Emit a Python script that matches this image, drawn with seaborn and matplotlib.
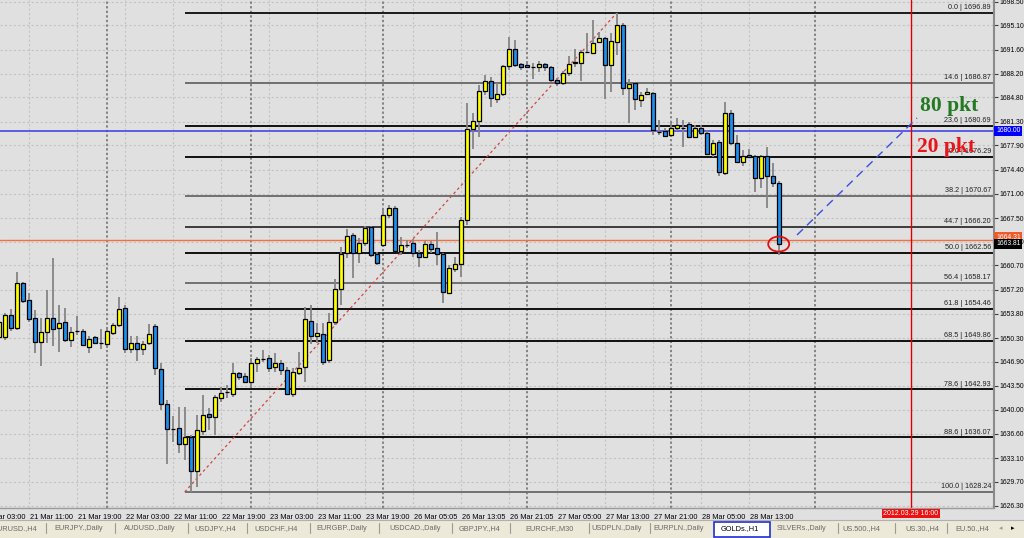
import numpy as np
import pandas as pd
import matplotlib
matplotlib.use("Agg")
import matplotlib.pyplot as plt
import matplotlib.transforms as mtransforms
from matplotlib.patches import Ellipse, Rectangle
from matplotlib.lines import Line2D
import seaborn as sns

# ---------------- data (GOLDs., H1) ----------------
bar_index = list(range(-1, 130))
opens = [
    1650.46, 1650.46, 1653.61, 1651.75, 1658.20, 1655.76, 1653.18, 1649.74, 1651.17, 1653.18,
    1651.75, 1652.61, 1650.03, 1651.32, 1651.32, 1649.02, 1650.46, 1649.60, 1649.45, 1651.03,
    1652.18, 1654.61, 1648.74, 1649.60, 1648.74, 1649.60, 1652.03, 1645.87, 1640.86, 1637.27,
    1637.42, 1635.12, 1636.13, 1631.26, 1636.99, 1639.42, 1638.99, 1641.72, 1642.58, 1642.29,
    1645.30, 1644.87, 1644.01, 1646.73, 1647.30, 1647.45, 1646.16, 1646.73, 1645.73, 1642.29,
    1645.30, 1646.16, 1652.75, 1650.60, 1650.89, 1647.16, 1652.61, 1657.34, 1662.50, 1665.07,
    1662.50, 1663.93, 1666.22, 1662.35, 1663.64, 1667.94, 1668.94, 1662.78, 1663.64, 1663.93,
    1662.50, 1661.92, 1663.78, 1663.21, 1662.35, 1656.76, 1660.20, 1660.92, 1667.22, 1680.26,
    1681.41, 1685.71, 1687.14, 1684.56, 1685.28, 1689.29, 1691.73, 1689.58, 1689.44, 1689.15,
    1689.15, 1689.58, 1689.15, 1687.29, 1686.86, 1688.29, 1689.72, 1689.72, 1691.30, 1691.16,
    1692.73, 1693.30, 1689.44, 1692.73, 1695.17, 1686.14, 1686.86, 1684.42, 1685.28, 1685.42,
    1679.83, 1679.98, 1679.40, 1680.41, 1680.41, 1680.98, 1679.12, 1680.41, 1679.69, 1676.68,
    1678.40, 1673.96, 1682.56, 1678.26, 1675.54, 1676.54, 1676.40, 1673.24, 1676.40, 1673.53, 1672.53,
]
highs = [
    1653.18, 1653.90, 1654.47, 1659.77, 1658.34, 1656.76, 1654.33, 1653.18, 1657.19, 1661.78,
    1655.04, 1654.61, 1651.89, 1653.47, 1651.60, 1650.60, 1650.60, 1651.60, 1651.75, 1652.46,
    1656.19, 1655.04, 1650.60, 1650.60, 1649.88, 1652.32, 1652.32, 1646.73, 1641.43, 1639.14,
    1640.43, 1640.43, 1636.41, 1639.28, 1642.15, 1640.28, 1642.15, 1643.29, 1643.58, 1646.73,
    1645.44, 1645.30, 1647.45, 1647.59, 1648.59, 1647.88, 1648.17, 1647.16, 1646.16, 1646.02,
    1648.31, 1654.76, 1655.04, 1652.46, 1652.46, 1653.90, 1658.77, 1663.35, 1665.93, 1665.36,
    1664.64, 1666.36, 1666.36, 1662.64, 1668.94, 1669.37, 1669.23, 1664.79, 1664.36, 1664.50,
    1662.92, 1664.21, 1664.21, 1665.50, 1662.50, 1660.78, 1661.92, 1667.65, 1683.99, 1682.56,
    1686.57, 1688.00, 1687.72, 1686.86, 1689.44, 1693.45, 1693.02, 1689.72, 1689.72, 1689.72,
    1690.01, 1689.72, 1689.29, 1687.57, 1688.58, 1690.73, 1691.73, 1691.58, 1694.02, 1695.88,
    1694.16, 1693.45, 1694.02, 1696.89, 1695.45, 1687.43, 1687.00, 1685.57, 1686.14, 1685.57,
    1681.55, 1680.41, 1681.27, 1681.84, 1681.55, 1681.27, 1680.84, 1680.84, 1680.12, 1678.69,
    1678.69, 1684.13, 1682.99, 1679.40, 1677.25, 1677.40, 1676.54, 1676.54, 1677.68, 1675.39, 1672.81,
]
lows = [
    1650.03, 1650.03, 1651.32, 1651.46, 1655.33, 1652.61, 1648.17, 1646.30, 1649.60, 1649.17,
    1648.31, 1649.74, 1649.02, 1650.74, 1649.17, 1648.17, 1649.45, 1648.74, 1648.88, 1650.74,
    1651.89, 1648.17, 1648.17, 1647.02, 1647.88, 1649.31, 1645.01, 1640.00, 1632.26, 1635.41,
    1633.84, 1632.83, 1628.24, 1628.96, 1636.41, 1637.13, 1636.41, 1641.14, 1641.72, 1641.86,
    1644.30, 1643.87, 1643.29, 1645.44, 1646.88, 1645.44, 1645.44, 1645.01, 1642.15, 1641.86,
    1645.01, 1644.01, 1649.45, 1649.60, 1646.45, 1646.73, 1652.18, 1655.04, 1661.78, 1658.91,
    1661.06, 1663.50, 1661.92, 1660.78, 1663.35, 1667.51, 1662.64, 1662.21, 1663.21, 1661.92,
    1660.49, 1661.78, 1662.50, 1660.78, 1655.33, 1656.62, 1659.77, 1659.06, 1666.51, 1677.40,
    1679.12, 1685.14, 1683.42, 1683.99, 1684.99, 1688.72, 1689.15, 1688.72, 1689.15, 1687.43,
    1688.43, 1688.58, 1687.00, 1686.43, 1686.57, 1687.86, 1689.15, 1687.14, 1691.16, 1691.16,
    1692.59, 1684.56, 1685.57, 1690.87, 1685.14, 1681.12, 1682.99, 1683.42, 1685.14, 1679.40,
    1679.40, 1679.12, 1679.12, 1679.98, 1677.68, 1678.97, 1678.97, 1679.40, 1676.54, 1676.25,
    1673.53, 1673.67, 1677.97, 1675.39, 1674.96, 1676.11, 1671.24, 1671.81, 1668.94, 1671.95, 1662.21,
]
closes = [
    1652.61, 1653.61, 1651.75, 1658.20, 1655.62, 1653.04, 1649.74, 1651.17, 1653.18, 1651.60,
    1652.46, 1650.03, 1651.17, 1651.32, 1649.31, 1650.17, 1649.60, 1649.60, 1651.32, 1652.18,
    1654.47, 1648.74, 1649.60, 1648.74, 1649.45, 1650.89, 1646.02, 1640.86, 1637.27, 1637.27,
    1635.12, 1636.13, 1631.26, 1637.13, 1639.28, 1638.99, 1641.86, 1642.43, 1642.58, 1645.30,
    1644.73, 1644.01, 1646.73, 1647.30, 1647.30, 1646.02, 1646.73, 1645.73, 1642.29, 1645.44,
    1646.02, 1653.04, 1650.60, 1651.03, 1646.88, 1652.61, 1657.34, 1662.35, 1664.93, 1662.50,
    1663.93, 1666.08, 1662.21, 1661.06, 1667.94, 1668.94, 1662.78, 1663.64, 1663.64, 1662.50,
    1661.92, 1663.78, 1663.07, 1662.35, 1656.91, 1660.35, 1660.92, 1667.22, 1680.26, 1681.41,
    1685.71, 1687.14, 1684.71, 1685.28, 1689.29, 1691.73, 1689.44, 1689.15, 1689.15, 1689.15,
    1689.58, 1689.15, 1687.29, 1686.86, 1688.29, 1689.58, 1689.87, 1691.30, 1691.30, 1692.59,
    1693.30, 1689.44, 1692.87, 1695.17, 1686.14, 1686.71, 1684.56, 1685.14, 1685.57, 1680.12,
    1679.83, 1679.26, 1680.41, 1680.84, 1680.41, 1679.12, 1680.41, 1679.69, 1676.68, 1678.26,
    1674.10, 1682.56, 1678.26, 1675.54, 1676.40, 1676.25, 1673.24, 1676.40, 1673.53, 1672.53, 1663.81,
]

scale_ticks = [1698.50, 1695.10, 1691.60, 1688.20, 1684.80, 1681.30, 1677.90, 1674.40,
               1671.00, 1667.50, 1664.10, 1660.70, 1657.20, 1653.80, 1650.30, 1646.90,
               1643.50, 1640.00, 1636.60, 1633.10, 1629.70, 1626.30]
time_tick_bars = [-4, 4, 12, 20, 28, 36, 44, 52, 60, 68, 76, 84, 92, 100, 108, 116, 124]
time_tick_labels = ["21 Mar 03:00", "21 Mar 11:00", "21 Mar 19:00", "22 Mar 03:00",
                    "22 Mar 11:00", "22 Mar 19:00", "23 Mar 03:00", "23 Mar 11:00",
                    "23 Mar 19:00", "26 Mar 05:05", "26 Mar 13:05", "26 Mar 21:05",
                    "27 Mar 05:00", "27 Mar 13:00", "27 Mar 21:00", "28 Mar 05:00",
                    "28 Mar 13:00"]
day_start_bars = [17, 41, 63, 87, 111, 135]

fib_levels = ["0.0", "14.6", "23.6", "30.0", "38.2", "44.7", "50.0", "56.4",
              "61.8", "68.5", "78.6", "88.6", "100.0"]
fib_prices = [1696.89, 1686.87, 1680.69, 1676.29, 1670.67, 1666.20, 1662.56,
              1658.17, 1654.46, 1649.86, 1642.93, 1636.07, 1628.24]
fib_anchor_bars = [30, 102]
fib_anchor_prices = [1628.24, 1696.89]

level_price = 1680.00
ask_price = 1664.31
bid_price = 1663.81
cursor_bar = 151
cursor_label = "2012.03.29 16:00"
projection_bars = [132.05, 152.05]
projection_prices = [1665.07, 1681.84]
note_texts = ["80 pkt", "20 pkt"]
circle_bar = 129
circle_price = 1663.77

tab_labels = ["EURUSD.,H4", "EURJPY.,Daily", "AUDUSD.,Daily", "USDJPY.,H4", "USDCHF.,H4",
              "EURGBP.,Daily", "USDCAD.,Daily", "GBPJPY.,H4", "EURCHF.,M30", "USDPLN.,Daily",
              "EURPLN.,Daily", "GOLDs.,H1", "SILVERs.,Daily", "US.500.,H4", "US.30.,H4",
              "EU.50.,H4"]
active_tab = "GOLDs.,H1"

# ---------------- style / layout ----------------
W, H = 1024, 538
BG = "#e0e0e0"
YELLOW = "#ffff00"
BLUE = "#1e8fef"

sns.set_style("white")
plt.rcParams["font.family"] = ["Liberation Sans", "DejaVu Sans"]

fig = plt.figure(figsize=(W / 100, H / 100), dpi=100, facecolor=BG)
ax = fig.add_axes([0, (H - 508) / H, 994 / W, 508 / H])
ax.set_facecolor(BG)

XL = (-4.7 / 6, (994 - 4.7) / 6)
YL = (1698.75 - 508 * 0.14332, 1698.75)

df = pd.DataFrame({"k": bar_index, "o": opens, "h": highs, "l": lows, "c": closes})
df["body"] = df["c"] - df["o"]
df["dir"] = np.where(df["c"] >= df["o"], "up", "down")

# wicks
ax.vlines(df["k"], df["l"], df["h"], color="#858585", lw=1.3, zorder=3)

# bodies via seaborn
for direction, col in (("up", YELLOW), ("down", BLUE)):
    sub = df[df["dir"] == direction].sort_values("k")
    sns.barplot(data=sub, x="k", y="body", native_scale=True, width=0.7,
                bottom=sub["o"].to_numpy(), color=col, saturation=1,
                errorbar=None, edgecolor="black", linewidth=0.9, ax=ax, zorder=4)

ax.set_xlabel("")
ax.set_ylabel("")
ax.set_xlim(*XL)
ax.set_ylim(*YL)

# grid
ax.set_axisbelow(True)
ax.set_yticks(scale_ticks, labels=[f"{v:.2f}" for v in scale_ticks])
ax.set_xticks(time_tick_bars[1:], labels=[""] * (len(time_tick_bars) - 1))
ax.grid(True, color="#c3c3c3", linestyle=(0, (2, 2)), linewidth=0.8)
ax.yaxis.tick_right()
ax.tick_params(axis="y", direction="out", length=3, width=0.8, color="#404040",
               pad=1, labelsize=4.9, labelcolor="black")
ax.tick_params(axis="x", direction="out", length=2.5, width=0.8, color="#404040",
               labelbottom=False)
for s in ("top", "left"):
    ax.spines[s].set_visible(False)
ax.spines["right"].set_color("#8a8a8a")
ax.spines["right"].set_linewidth(1.5)
ax.spines["bottom"].set_color("#9a9a9a")
ax.spines["bottom"].set_linewidth(1.0)

# time labels
xtrans = mtransforms.blended_transform_factory(ax.transData, ax.transAxes)
for kk, lab in zip(time_tick_bars, time_tick_labels):
    ax.annotate(lab, xy=(kk, 0), xycoords=xtrans, xytext=(1, -4.6),
                textcoords="offset points", ha="left", va="top", fontsize=5.3,
                color="black", annotation_clip=False)

# day separators
ax.vlines(day_start_bars, YL[0], YL[1], color="#6a6a6a", lw=1.1,
          linestyle=(0, (1.5, 1.5)), zorder=1.2)

# fibonacci
fib_colors = ["#1a1a1a", "#6e6e6e", "#101010", "#101010", "#707070", "#3c3c3c",
              "#101010", "#707070", "#101010", "#101010", "#101010", "#101010", "#707070"]
for lvl, pr, col in zip(fib_levels, fib_prices, fib_colors):
    ax.hlines(pr, fib_anchor_bars[0], XL[1], color=col, lw=1.4, zorder=1.6)
    ax.annotate(f"{lvl} | {pr:.2f}", xy=((991 - 4.7) / 6, pr), xytext=(0, 1.3),
                textcoords="offset points", ha="right", va="bottom", fontsize=5.2,
                color="#202020", zorder=2)
ax.plot(fib_anchor_bars, fib_anchor_prices, color="#d04848", lw=0.9,
        linestyle=(0, (2.2, 2.2)), zorder=2.5)

# horizontal level / ask
ax.axhline(level_price, color="#4646e6", lw=1.2, zorder=1.7)
ax.axhline(ask_price, color="#f07040", lw=1.0, zorder=1.7)

# cursor line
ax.axvline(cursor_bar, color="#e00000", lw=1.0, zorder=1.8)
ax.annotate(cursor_label, xy=(cursor_bar, 0), xycoords=xtrans, xytext=(0, -1.6),
            textcoords="offset points", ha="center", va="top", fontsize=5.0,
            color="white", annotation_clip=False,
            bbox=dict(boxstyle="square,pad=0.18", fc="#ee1111", ec="none"))

# projection line
ax.plot(projection_bars, projection_prices, color="#3a4fe0", lw=1.0,
        linestyle=(0, (6, 4)), zorder=5)

# circle
ax.add_patch(Ellipse((circle_bar, circle_price), 3.5, 2.15, fill=False,
                     ec="#e01010", lw=1.3, zorder=6))

# notes
ax.text(152.6, 1683.56, note_texts[0], color="#237a23", fontsize=15.5,
        fontweight="bold", family="Liberation Serif", ha="left", va="center", zorder=7)
ax.text(152.0, 1677.68, note_texts[1], color="#e8141a", fontsize=15.5,
        fontweight="bold", family="Liberation Serif", ha="left", va="center", zorder=7)

# price boxes on the right scale
ytrans = mtransforms.blended_transform_factory(ax.transAxes, ax.transData)
bx = 1.0 + 2.0 / 994
ax.text(bx, level_price, f"{level_price:.2f}", transform=ytrans, ha="left", va="center",
        fontsize=4.9, color="white", zorder=8, clip_on=False,
        bbox=dict(boxstyle="square,pad=0.25", fc="#0000ff", ec="none"))
ax.text(bx, ask_price + 0.45, f"{ask_price:.2f}", transform=ytrans, ha="left", va="center",
        fontsize=4.9, color="white", zorder=8, clip_on=False,
        bbox=dict(boxstyle="square,pad=0.25", fc="#f05a28", ec="none"))
ax.text(bx, bid_price, f"{bid_price:.2f}", transform=ytrans, ha="left", va="center",
        fontsize=4.9, color="white", zorder=9, clip_on=False,
        bbox=dict(boxstyle="square,pad=0.25", fc="#000000", ec="none"))

# ---------------- tab bar ----------------
fig.patches.append(Rectangle((0, 0), 1, (H - 520) / H, transform=fig.transFigure,
                             fc="#ece9d8", ec="none", zorder=0))
fig.lines.append(Line2D([0, 1], [(H - 520) / H] * 2, transform=fig.transFigure,
                        color="#b0b0b0", lw=0.8))
tab_centers = [None, 78.5, 150, 215, 276.5, 341.5, 415, 480, 550, 617, 678.5, 740,
               801.5, 861.5, 922, 972]
sep_x = [46, 115, 188, 247, 310, 379, 452, 510, 589, 650, 838, 895, 947]
ty = (H - 528.5) / H
for lab, cx in zip(tab_labels, tab_centers):
    if cx is None:
        fig.text(37 / W, ty, lab, ha="right", va="center", fontsize=5.3, color="#6a6a6a")
    elif lab == active_tab:
        fig.patches.append(Rectangle((714 / W, (H - 537) / H), 56 / W, 15.5 / H,
                                     transform=fig.transFigure, fc="white",
                                     ec="#1f2fcf", lw=1.2, zorder=1))
        fig.text(cx / W, ty, lab, ha="center", va="center", fontsize=5.3, color="black",
                 zorder=2)
    else:
        fig.text(cx / W, ty, lab, ha="center", va="center", fontsize=5.3, color="#6a6a6a")
for sx in sep_x:
    fig.lines.append(Line2D([sx / W, sx / W], [(H - 533) / H, (H - 523) / H],
                            transform=fig.transFigure, color="#9a9a9a", lw=0.8))
fig.text(1001 / W, ty, "\u25c2", ha="center", va="center", fontsize=5, color="#9a9a9a",
         family="DejaVu Sans")
fig.text(1013 / W, ty, "\u25b8", ha="center", va="center", fontsize=5, color="black",
         family="DejaVu Sans")

fig.savefig("out.png", dpi=100, facecolor=BG)
